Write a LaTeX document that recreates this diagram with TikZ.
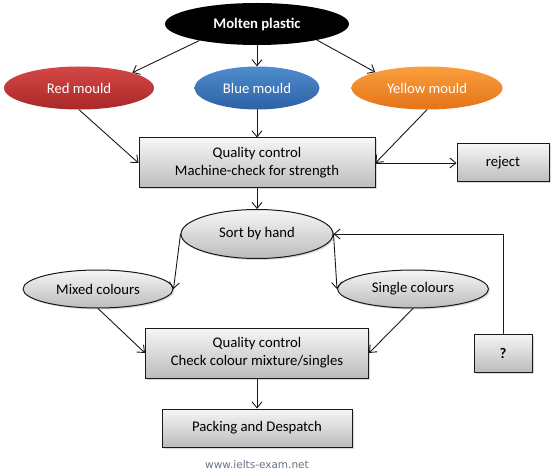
\documentclass[tikz,border=0pt]{standalone}
\usepackage{fontspec}
\setmainfont{Carlito}
\newfontfamily\webfont{DejaVu Sans}
\usetikzlibrary{shapes.geometric, arrows.meta, shadows, positioning}

\begin{document}
\begin{tikzpicture}[x=1pt, y=-1pt, line cap=round,
    %Style
    every node/.style={font=\fontsize{14.7}{18}\selectfont, align=center, inner sep=0pt},
    mould/.style={ellipse, minimum height=43pt, text=white},
    grey oval/.style={ellipse, draw=black!90, line width=1pt, top color=greytop, bottom color=greybottom,
      minimum height=38pt, drop shadow={shadow xshift=1.5pt, shadow yshift=-1.5pt, opacity=0.3}},
    grey box/.style={rectangle, draw=black!90, line width=1pt, top color=greytop, bottom color=greybottom,
      minimum height=38pt, drop shadow={shadow xshift=1.5pt, shadow yshift=-1.5pt, opacity=0.3}},
    flow/.style={draw=black!90, line width=0.9pt, -{Straight Barb[length=6pt, width=10pt]}}]
    %Colors
    \definecolor{redtop}{RGB}{212,72,70}
    \definecolor{redbottom}{RGB}{168,40,40}
    \definecolor{bluetop}{RGB}{80,140,205}
    \definecolor{bluebottom}{RGB}{44,98,165}
    \definecolor{orangetop}{RGB}{251,158,62}
    \definecolor{orangebottom}{RGB}{228,116,24}
    \definecolor{greytop}{RGB}{246,246,246}
    \definecolor{greybottom}{RGB}{188,188,188}
    \definecolor{webcolor}{RGB}{100,115,135}

    \useasboundingbox (0,0) rectangle (553,470);

    %The moulds
    \node[mould, fill=black, minimum width=184pt, minimum height=42pt,
      font=\fontsize{14.7}{18}\selectfont\bfseries] (molten) at (257,24) {Molten plastic};
    \node[mould, top color=redtop, bottom color=redbottom, minimum width=150pt] (red) at (79,88) {Red mould};
    \node[mould, top color=bluetop, bottom color=bluebottom, minimum width=125pt] (blue) at (257,88) {Blue mould};
    \node[mould, top color=orangetop, bottom color=orangebottom, minimum width=151pt] (yellow) at (427,88) {Yellow mould};

    %Checks and sorting
    \node[grey box, minimum width=236pt, minimum height=50pt] (qc1) at (257,163)
      {Quality control\\Machine-check for strength};
    \node[grey box, minimum width=92pt] (reject) at (503,163) {reject};
    \node[grey oval, minimum width=152pt, minimum height=49pt] (sort) at (257,234) {Sort by hand};
    \node[grey oval, minimum width=150pt] (mixed) at (98,289) {Mixed colours};
    \node[grey oval, minimum width=151pt] (single) at (413,289) {Single colours};
    \node[grey box, minimum width=223pt, minimum height=50pt] (qc2) at (257,353)
      {Quality control\\Check colour mixture/singles};
    \node[grey box, minimum width=190pt] (packing) at (257,428) {Packing and Despatch};
    \node[grey box, minimum width=58pt, font=\fontsize{14.7}{18}\selectfont\bfseries] (unknown) at (503,353) {?};

    \node[font=\webfont\fontsize{10.5}{12}\selectfont, text=webcolor] (web) at (257,465) {www.ielts-exam.net};

    %Connectors
    \draw[flow] (molten.196) -- (red.16);
    \draw[flow] (molten) -- (blue);
    \draw[flow] (molten.-15) -- (yellow.163);
    \draw[flow] (red.south) -- (qc1.west);
    \draw[flow] (blue) -- (qc1);
    \draw[flow] (yellow.south) -- (qc1.east);
    \draw[flow] (qc1) -- (reject);
    \draw[flow] (qc1) -- (sort);
    \draw[flow] (sort.west) -- (mixed.east);
    \draw[flow] (sort.east) -- (single.west);
    \draw[flow] (mixed.south) -- (qc2.west);
    \draw[flow] (single.south) -- (qc2.east);
    \draw[flow] (qc2) -- (packing);
    \draw[flow] (unknown.north) |- (sort.east);
\end{tikzpicture}
\end{document}
